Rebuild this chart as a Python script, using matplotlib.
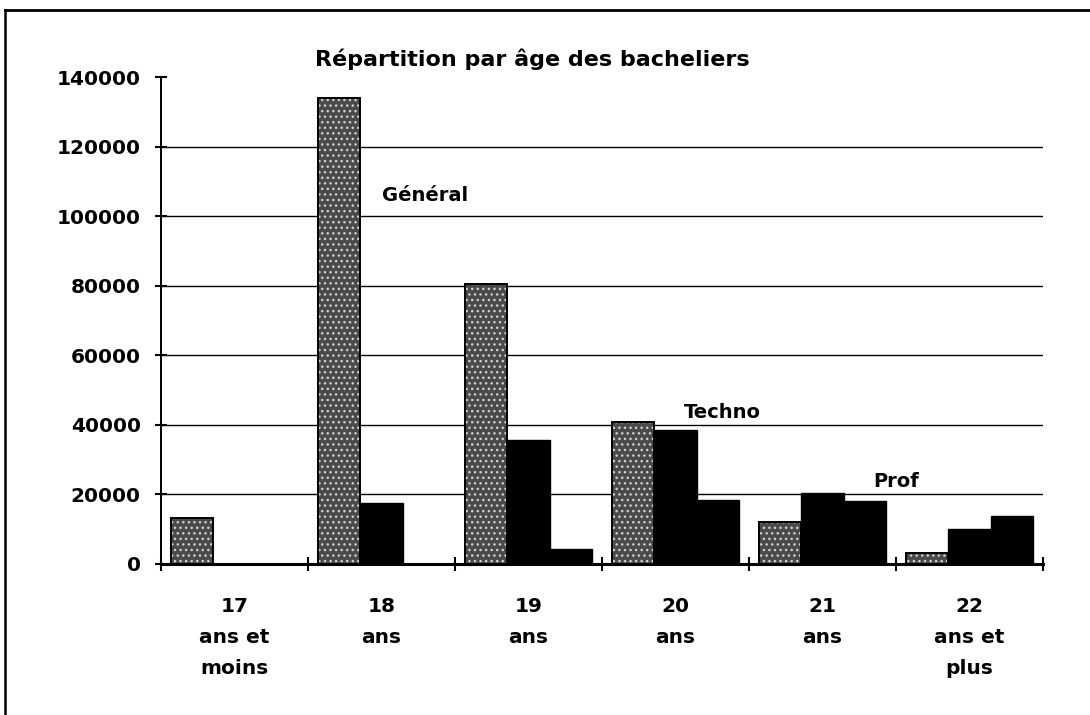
import numpy as np
import matplotlib
matplotlib.use("Agg")
import matplotlib.pyplot as plt
from matplotlib.lines import Line2D

# values
ages = ["17\nans et\nmoins", "18\nans", "19\nans", "20\nans", "21\nans", "22\nans et\nplus"]
general = [13200, 134000, 80500, 40800, 12000, 3200]
techno = [0, 17500, 35600, 38500, 20400, 10000]
prof = [0, 0, 4300, 18400, 18100, 13800]
yticks = [0, 20000, 40000, 60000, 80000, 100000, 120000, 140000]

plt.rcParams['font.family'] = ['DejaVu Sans']
plt.rcParams['font.weight'] = 'bold'


def run():
  fig = plt.figure(figsize=(10.9, 7.15), dpi=100)
  ax = fig.add_axes([0.1477, 0.2112, 0.8092, 0.6811])

  x = np.arange(len(ages))
  w = 0.29

  # general: stippled grey bars
  ax.bar(x - w, general, w, color='#4a4a4a', edgecolor='#d0d0d0', hatch='...', linewidth=0, zorder=3)
  ax.bar(x - w, general, w, fill=False, edgecolor='black', linewidth=1.4, zorder=4)
  ax.bar(x, techno, w, color='black', edgecolor='black', linewidth=1, zorder=3)
  ax.bar(x + w, prof, w, color='black', edgecolor='black', linewidth=1, zorder=3)

  ax.set_xlim(-0.5, len(ages) - 0.5)
  ax.set_ylim(0, 140000)

  ax.set_yticks(yticks)
  ax.set_yticklabels([str(v) for v in yticks], fontsize=14.5, fontweight='bold')
  ax.tick_params(axis='y', direction='inout', length=9, width=1.5, pad=10)
  for v in yticks[1:-1]:
    ax.axhline(v, color='black', linewidth=1, zorder=1)

  ax.set_xticks(np.arange(len(ages) + 1) - 0.5)
  ax.set_xticklabels([])
  ax.tick_params(axis='x', which='major', direction='inout', length=10, width=1.5)
  ax.set_xticks(x, minor=True)
  ax.set_xticklabels(ages, minor=True, fontsize=14.5, fontweight='bold', linespacing=1.8)
  ax.tick_params(axis='x', which='minor', length=0, pad=24)

  for s in ['top', 'right']:
    ax.spines[s].set_visible(False)
  ax.spines['left'].set_linewidth(1.4)
  ax.spines['bottom'].set_linewidth(2.2)

  ax.text(1.0, 106000, "Général", fontsize=14, fontweight='bold', va='center', ha='left')
  ax.text(3.32, 43500, "Techno", fontsize=14, fontweight='bold', va='center', ha='center')
  ax.text(4.5, 23600, "Prof", fontsize=14, fontweight='bold', va='center', ha='center')

  fig.text(0.488, 0.917, "Répartition par âge des bacheliers", fontsize=16,
           fontweight='bold', ha='center', va='center')

  # scanned frame: top and left edges only
  fig.lines.append(Line2D([0.005, 1.0], [0.986, 0.986], transform=fig.transFigure,
                          color='black', linewidth=2))
  fig.lines.append(Line2D([0.005, 0.005], [0.0, 0.986], transform=fig.transFigure,
                          color='black', linewidth=1.8))

  fig.savefig("out.png", dpi=100)


if __name__ == '__main__':
  run()
